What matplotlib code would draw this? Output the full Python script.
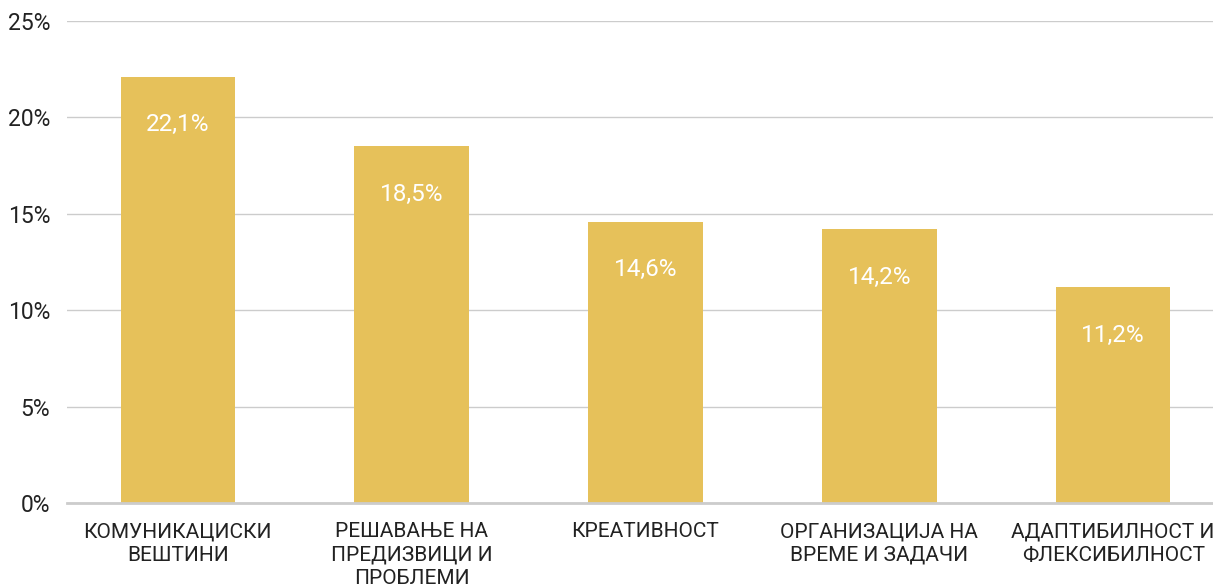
import matplotlib.pyplot as plt
from matplotlib.ticker import FuncFormatter

categories = [
    "КОМУНИКАЦИСКИ\nВЕШТИНИ",
    "РЕШАВАЊЕ НА\nПРЕДИЗВИЦИ И\nПРОБЛЕМИ",
    "КРЕАТИВНОСТ",
    "ОРГАНИЗАЦИЈА НА\nВРЕМЕ И ЗАДАЧИ",
    "АДАПТИБИЛНОСТ И\nФЛЕКСИБИЛНОСТ",
]
values = [22.1, 18.5, 14.6, 14.2, 11.2]
yticks = [0, 5, 10, 15, 20, 25]

plt.rcParams['font.family'] = ['Roboto', 'DejaVu Sans']

fig = plt.figure(figsize=(12.13, 5.87), dpi=100)
ax = fig.add_axes([0.0552, 0.1431, 0.9448, 0.8211])

x = range(len(categories))
bars = ax.bar(x, values, width=0.49, color="#E6C15A", zorder=3)

# labels inside the bars
for b, v in zip(bars, values):
    ax.annotate(f"{v:.1f}%".replace(".", ","),
                (b.get_x() + b.get_width() / 2, b.get_height()),
                xytext=(0, -34.5), textcoords="offset points",
                ha="center", va="center", color="white", fontsize=17.5)

ax.set_ylim(0, 25)
ax.set_xlim(-0.474, 4.427)
ax.set_yticks(yticks)
ax.yaxis.set_major_formatter(FuncFormatter(lambda v, p: f"{v:.0f}%"))
ax.set_xticks(list(x))
ax.set_xticklabels(categories, fontsize=15, color="#222222", linespacing=1.3)
ax.tick_params(axis="y", length=0, pad=12, labelsize=16.5, labelcolor="#222222")
ax.tick_params(axis="x", length=0, pad=14)

ax.grid(axis="y", color="#cccccc", linewidth=1, zorder=0)
for s in ["top", "right", "left"]:
    ax.spines[s].set_visible(False)
ax.spines["bottom"].set_color("#cccccc")
ax.spines["bottom"].set_linewidth(2)
ax.spines["bottom"].set_zorder(4)

fig.savefig("out.png", dpi=100)
